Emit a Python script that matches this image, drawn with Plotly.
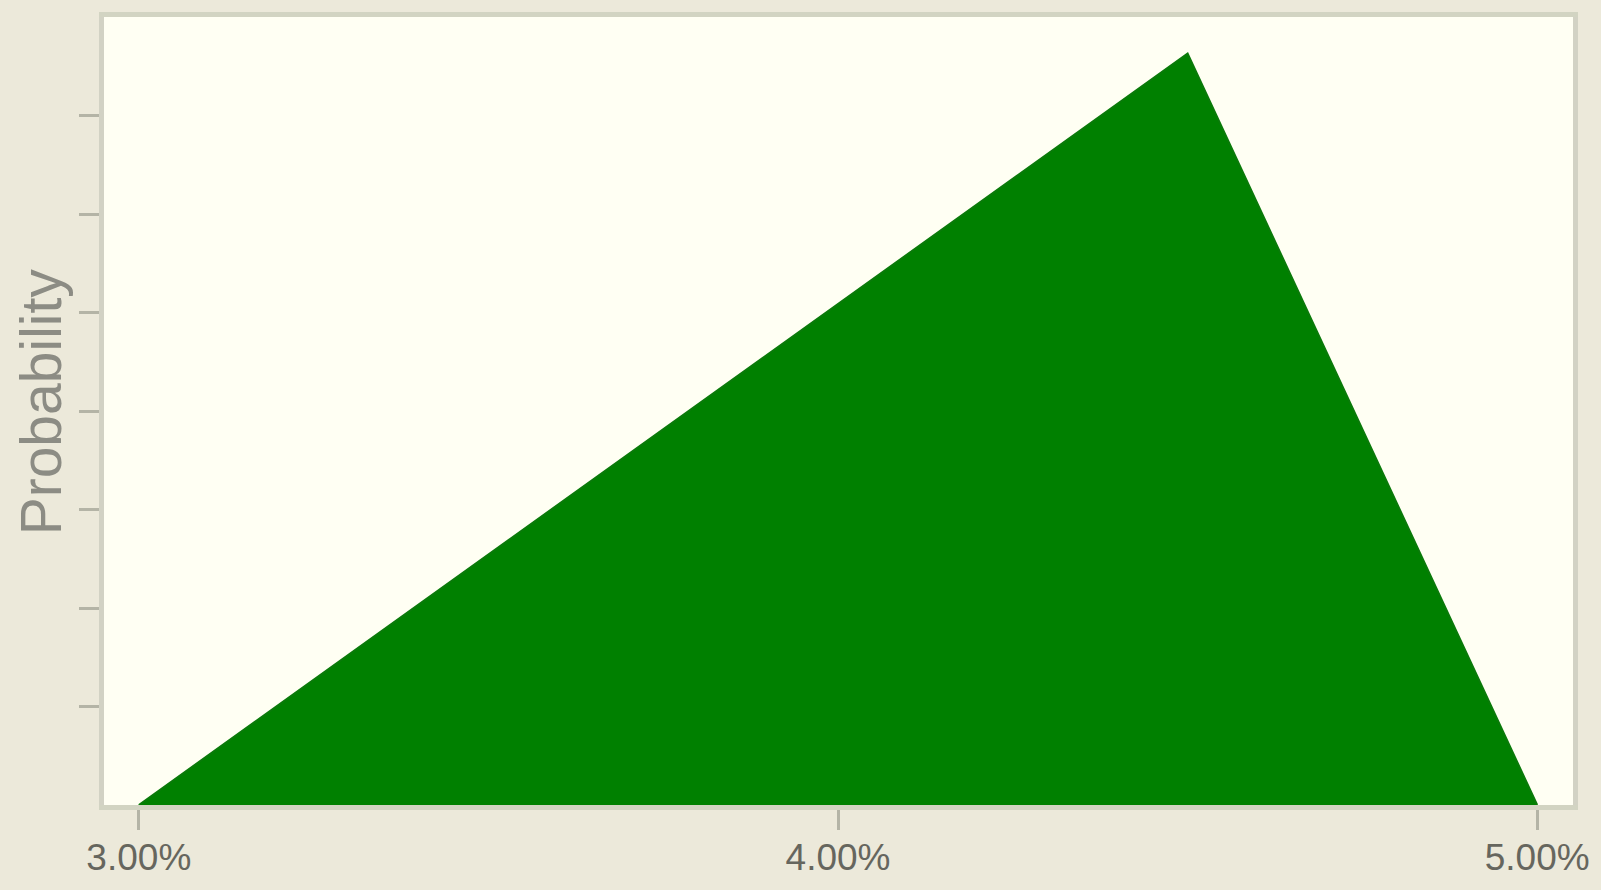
import plotly.graph_objects as go

# Triangular distribution (percent values)
x_values = [3.00, 4.50, 5.00]
y_values = [0.0, 0.763, 0.0]
x_tick_vals = [3.0, 4.0, 5.0]
x_tick_text = ["3.00%", "4.00%", "5.00%"]
y_tick_vals = [0.1, 0.2, 0.3, 0.4, 0.5, 0.6, 0.7]
y_title = "Probability"

fig = go.Figure()
fig.add_trace(go.Scatter(
    x=x_values, y=y_values,
    mode="lines",
    fill="toself",
    fillcolor="#008000",
    line=dict(color="#0a7a0a", width=2),
    hoverinfo="skip",
    showlegend=False,
))

fig.update_layout(
    width=1601, height=890,
    margin=dict(l=104, r=20, t=13, b=75),
    paper_bgcolor="#ECE9DA",
    plot_bgcolor="#FFFFF3",
    xaxis=dict(
        range=[2.9502, 5.0512],
        tickvals=x_tick_vals, ticktext=x_tick_text,
        ticks="outside", ticklen=20, tickwidth=3, tickcolor="#b4b4a6",
        ticklabelstandoff=-4, ticklabeloverflow="allow",
        showgrid=False, zeroline=False,
        showline=True, linecolor="#d2d4c2", linewidth=5, mirror=True,
        tickfont=dict(family="Liberation Sans, Arial, sans-serif", size=37, color="#66665e"),
    ),
    yaxis=dict(
        range=[0, 0.8],
        tickvals=y_tick_vals,
        showticklabels=False,
        ticks="outside", ticklen=20, tickwidth=3, tickcolor="#b4b4a6",
        showgrid=False, zeroline=False,
        showline=True, linecolor="#d2d2c4", linewidth=5, mirror=True,
    ),
    annotations=[dict(
        text=y_title, xref="paper", yref="paper",
        x=0, y=0.511, xshift=-63, xanchor="center", yanchor="middle",
        textangle=-90, showarrow=False,
        font=dict(family="Liberation Sans, Arial, sans-serif", size=57, color="#8c8c84"),
    )],
)

fig.write_html(
    "out.html",
    config={"displayModeBar": False},
    post_script=(
        "var h=document.documentElement, b=document.body;"
        "h.style.margin='0'; h.style.overflow='hidden'; h.style.width='1601px'; h.style.height='890px';"
        "b.style.margin='0'; b.style.overflow='hidden'; b.style.width='1601px'; b.style.height='890px';"
        "b.style.background='#ECE9DA';"
        "var d=document.querySelector('.plotly-graph-div'); if(d){d.style.overflow='hidden';}"
    ),
)
